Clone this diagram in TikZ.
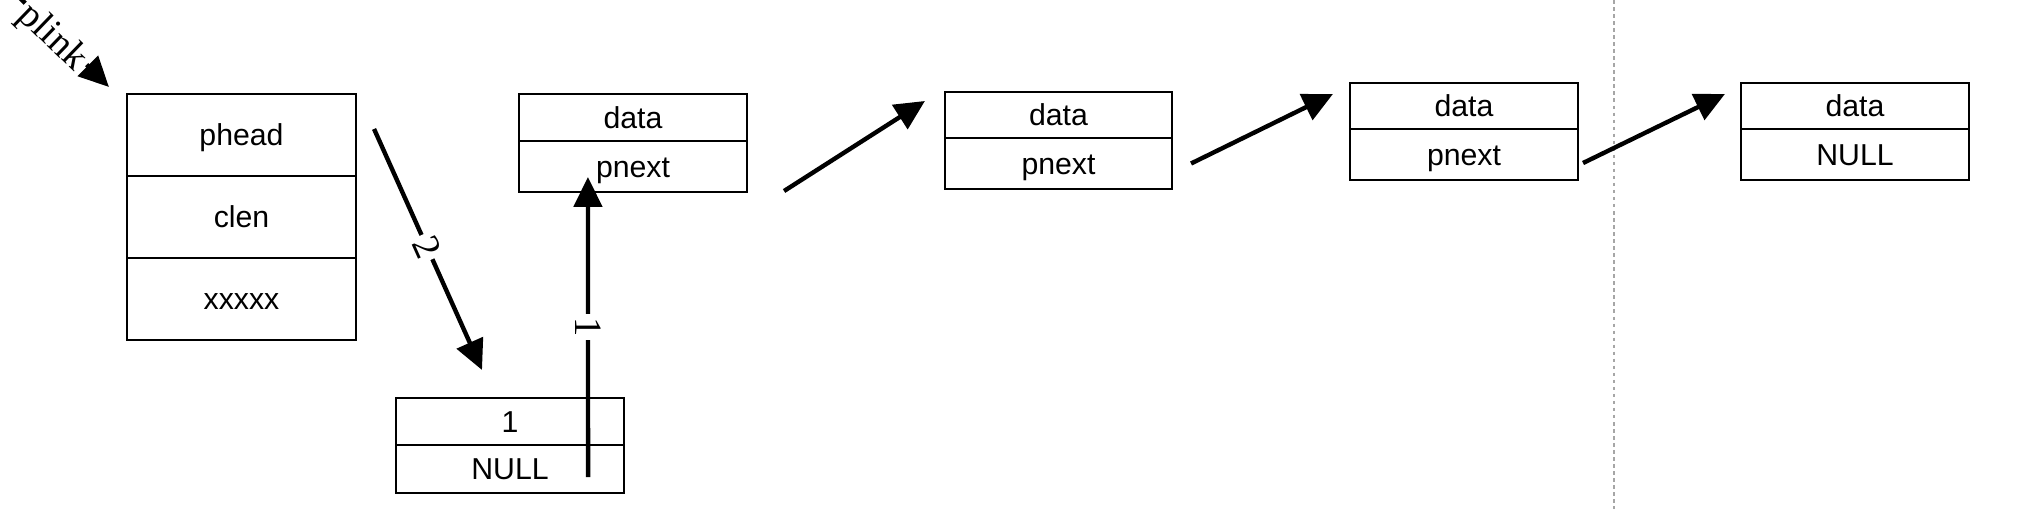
\documentclass[tikz,border=0pt]{standalone}
\usepackage{fontspec}
\setmainfont{Liberation Sans}
\newfontfamily\seriflab{Liberation Serif}
\usetikzlibrary{arrows.meta,calc}
\begin{document}
\begin{tikzpicture}[x=0.01cm,y=-0.01cm,
  cell/.style={draw=black, line width=0.7pt, inner sep=0pt, outer sep=0pt,
    minimum width=2.28cm, font=\fontsize{8.6}{10}\selectfont,
    text height=0.8em, text depth=0.18em},
  arr/.style={-{Triangle[length=8.5pt,width=8pt]}, line width=1.25pt},
  lab/.style={font=\seriflab\fontsize{11}{13}\selectfont, fill=white, inner sep=1pt}]
\fill[white] (0,0) rectangle (2021,509);
\useasboundingbox (0,0) rectangle (2021,509);
\clip (0,0) rectangle (2021,509);
% head box
\node[cell, minimum width=2.29cm, minimum height=0.82cm] (h1) at (241.5,135) {phead};
\node[cell, minimum width=2.29cm, minimum height=0.82cm] (h2) at (241.5,217) {clen};
\node[cell, minimum width=2.29cm, minimum height=0.82cm] (h3) at (241.5,299) {xxxxx};
% new node
\node[cell, minimum height=0.47cm] (n1) at (510,421.5) {1};
\node[cell, minimum height=0.48cm] (n2) at (510,469) {NULL};
% list nodes
\node[cell, minimum height=0.47cm] (a1) at (633,117.5) {data};
\node[cell, minimum height=0.51cm] (a2) at (633,166.5) {pnext};
\node[cell, minimum width=2.27cm, minimum height=0.46cm] (b1) at (1058.5,115) {data};
\node[cell, minimum width=2.27cm, minimum height=0.51cm] (b2) at (1058.5,163.5) {pnext};
\node[cell, minimum height=0.46cm] (c1) at (1464,106) {data};
\node[cell, minimum height=0.51cm] (c2) at (1464,154.5) {pnext};
\node[cell, minimum height=0.46cm] (d1) at (1855,106) {data};
\node[cell, minimum height=0.51cm] (d2) at (1855,154.5) {NULL};
% separator
\coordinate (sepTop) at (1614,0);
\coordinate (sepBot) at (1614,509);
\draw[gray!70, line width=0.4pt, dash pattern=on 1pt off 1pt] (sepTop) -- (sepBot);
% plink
\coordinate (plinkStart) at (-30,-52);
\coordinate (plinkEnd) at ($(h1.north west)+(-18,-7)$);
\draw[arr] (plinkStart) -- (plinkEnd);
\node[lab, rotate=-44] (plinkLab) at (52,38) {plink};
% arrow 2
\coordinate (twoStart) at ($(h1.north east)+(18,35)$);
\coordinate (twoEnd) at ($(n1.north)+(-28,-28)$);
\draw[arr] (twoStart) -- node[lab, pos=0.49, sloped] (twoLab) {2} (twoEnd);
% arrow 1
\coordinate (oneStart) at ($(n2.east)+(-36,8)$);
\coordinate (oneEnd) at ($(a2.west)+(69,10.5)$);
\draw[arr] (oneStart) -- node[lab, pos=0.5, rotate=-90] (oneLab) {1} (oneEnd);
% list arrows
\coordinate (abStart) at ($(a2.south east)+(37,-1)$);
\coordinate (abEnd) at ($(b1.west)+(-20,-14)$);
\draw[arr] (abStart) -- (abEnd);
\coordinate (bcStart) at ($(b2.east)+(19,0)$);
\coordinate (bcEnd) at ($(c1.west)+(-17,-12)$);
\draw[arr] (bcStart) -- (bcEnd);
\coordinate (cdStart) at ($(c2.east)+(5,8.5)$);
\coordinate (cdEnd) at ($(d1.west)+(-16,-12)$);
\draw[arr] (cdStart) -- (cdEnd);
\end{tikzpicture}
\end{document}
